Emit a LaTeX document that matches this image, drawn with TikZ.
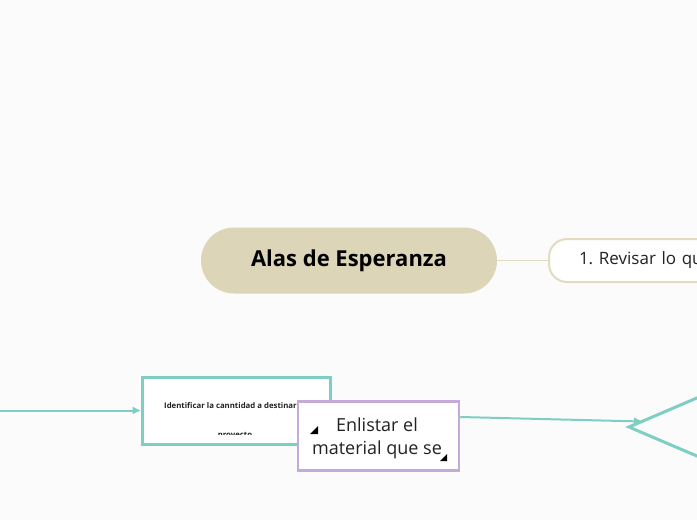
\documentclass[tikz,border=0pt]{standalone}
\usepackage{fontspec}
\setmainfont{Open Sans}
\usepackage{tikz}
\usetikzlibrary{arrows.meta}
\definecolor{bgcol}{HTML}{FBFBFB}
\definecolor{tanfill}{HTML}{DDD5B8}
\definecolor{tanline}{HTML}{E2DBBF}
\definecolor{tealline}{HTML}{7ECEC3}
\definecolor{lilac}{HTML}{C4AAD6}
\definecolor{inkcol}{HTML}{222222}
\frenchspacing

\begin{document}
\begin{tikzpicture}[x=1pt,y=-1pt,
    central/.style={fill=tanfill, rounded corners=33pt, minimum width=296pt, minimum height=66pt, inner sep=0pt, font={\bfseries\fontsize{22}{26}\selectfont}, text=black},
    topicbox/.style={draw=tanline, line width=2pt, fill=white, rounded corners=18pt, minimum height=43pt, inner xsep=30pt, text width=250pt, align=left, font={\fontsize{17}{20}\selectfont}, text=inkcol},
    tealbox/.style={draw=tealline, line width=3pt, fill=white, minimum width=188pt, minimum height=67pt, inner sep=0pt},
    lilacbox/.style={draw=lilac, line width=2.5pt, fill=white, minimum width=161pt, minimum height=69pt, inner sep=0pt, align=center, font={\fontsize{18}{23}\selectfont}, text=inkcol},
    smalltext/.style={font={\bfseries\fontsize{7.8}{9}\selectfont}, text=inkcol, inner sep=0pt},
    tealarrow/.style={draw=tealline, line width=2pt, -{Triangle[length=8pt,width=7pt]}}]
    \clip (0,0) rectangle (697,520);
    \fill[bgcol] (0,0) rectangle (697,520);

    \node[central] (alas) at (349,260.5) {Alas de Esperanza};
    \node[topicbox, anchor=west] (revisar) at (548,260.5) {1. Revisar lo que};
    \draw[tanline, line width=1.5pt] (alas.east) -- (revisar.west);

    \node[tealbox] (ident) at (236,410.5) {};
    \node[smalltext, anchor=base west] (identa) at (164,408.5) {Identificar la canntidad a destinar};
    \begin{scope}
        \clip (142,377) rectangle (330,434.5);
        \node[smalltext, anchor=base] (identb) at (235,437.5) {proyecto};
    \end{scope}
    \coordinate (src) at (0,410.5);
    \draw[tealarrow] (src) -- (ident.west);

    \node[lilacbox] (enlist) at (378.5,436) {};
    \node[lilacbox, draw=none, fill=none] (enlisttext) at (377,438) {Enlistar el\\material que se};
    \fill[black] (310,434) -- (318,434) -- (318,426) -- cycle;
    \fill[black] (440,461) -- (447,461) -- (447,454) -- cycle;

    \coordinate (dwest) at (629,427);
    \draw[tealline, line width=3pt, line join=miter] (dwest) -- (760,371) -- (891,427) -- (760,483) -- cycle;
    \coordinate (dtip) at (642,421.5);
    \draw[tealarrow] ([yshift=19pt]enlist.east) -- (dtip);
\end{tikzpicture}
\end{document}
